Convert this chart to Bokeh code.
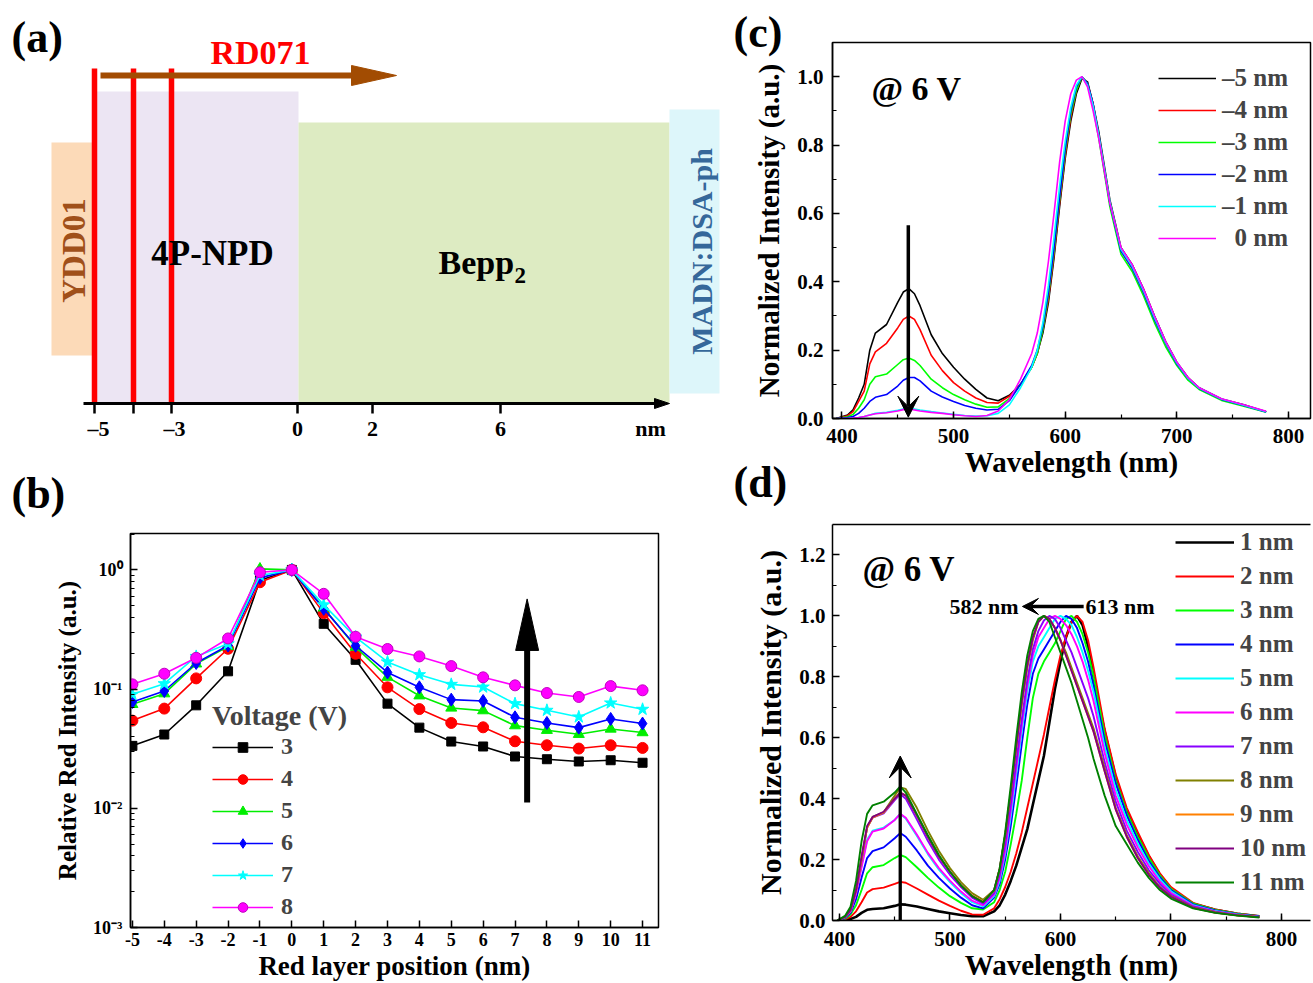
import math
from bokeh.plotting import figure
from bokeh.models import (Range1d, LinearAxis, Legend, LegendItem, Label, Arrow, VeeHead, Title,
                          FixedTicker, SingleIntervalTicker, NumeralTickFormatter,
                          CustomJSTickFormatter)
from bokeh.layouts import row, column
from bokeh.embed import file_html
from bokeh.resources import INLINE
from bokeh.core.properties import value

FONT = "Liberation Serif"

# ---------------- (a) device schematic (drawing units of the panel) ----------------
layer_names = ["YDD01", "4P-NPD", "Bepp2", "MADN:DSA-ph"]
layer_left = [51, 94, 298, 669]
layer_right = [92, 298, 669, 719]
layer_top = [142, 91, 122, 109]
layer_bottom = [355, 402, 402, 393]
layer_colors = ["#FCDAB8", "#ECE5F3", "#DDEBC2", "#DDF6FA"]
rd071_x = [94, 133, 171]
scale_ticks = [94, 133, 171, 297, 372, 500]
scale_label_x = [98, 174, 297, 372, 500, 650]
scale_label_text = ["\u20135", "\u20133", "0", "2", "6", "nm"]

# ---------------- (b) relative red intensity vs position ----------------
positions = list(range(-5, 12))
voltages = ["3", "4", "5", "6", "7", "8"]
b_v3 = [0.0334, 0.0416, 0.0731, 0.141, 0.82, 1.0, 0.353, 0.176, 0.0755, 0.0475, 0.0363, 0.033, 0.0272, 0.0258, 0.0247, 0.0253, 0.0241]
b_v4 = [0.0544, 0.0686, 0.123, 0.218, 0.788, 1.0, 0.434, 0.198, 0.1035, 0.068, 0.052, 0.0478, 0.0365, 0.0338, 0.0317, 0.0338, 0.0321]
b_v5 = [0.0745, 0.0916, 0.163, 0.228, 1.02, 1.0, 0.48, 0.225, 0.126, 0.088, 0.0695, 0.066, 0.0494, 0.0452, 0.0418, 0.0463, 0.0432]
b_v6 = [0.078, 0.0964, 0.1655, 0.232, 0.857, 1.0, 0.471, 0.231, 0.138, 0.1035, 0.0816, 0.0795, 0.058, 0.052, 0.0475, 0.0562, 0.0514]
b_v7 = [0.0904, 0.111, 0.188, 0.24, 0.897, 1.0, 0.509, 0.273, 0.169, 0.132, 0.1096, 0.104, 0.0755, 0.0664, 0.0584, 0.0765, 0.0677]
b_v8 = [0.1096, 0.1346, 0.183, 0.266, 0.955, 1.0, 0.63, 0.275, 0.217, 0.188, 0.156, 0.1255, 0.1075, 0.0927, 0.0859, 0.106, 0.0977]
b_series = [b_v3, b_v4, b_v5, b_v6, b_v7, b_v8]
b_colors = ["#000000", "#FF0000", "#00EE00", "#0000FF", "#00FFFF", "#FF00FF"]
b_markers = ["square", "circle", "triangle", "diamond", "star", "circle"]
b_sizes = [9, 11, 11, 13, 13, 11]

# ---------------- (c) spectra, red layer at -5 ... 0 nm ----------------
wl_c = [395, 405, 410, 415, 420, 425, 430, 440, 450, 455, 460, 465, 470, 480, 490, 500, 510, 520,
        530, 540, 550, 560, 570, 575, 580, 585, 590, 595, 600, 605, 610, 615, 620, 625, 630, 640,
        650, 660, 670, 680, 690, 700, 710, 720, 740, 760, 780]
c_m5 = [0, 0.01, 0.025, 0.06, 0.1, 0.2, 0.25, 0.275, 0.34, 0.37, 0.38, 0.365, 0.33, 0.245, 0.19, 0.15, 0.115, 0.085,
        0.06, 0.052, 0.068, 0.1, 0.15, 0.19, 0.25, 0.34, 0.47, 0.62, 0.76, 0.87, 0.95, 0.995, 0.985, 0.92, 0.84, 0.64,
        0.5, 0.45, 0.38, 0.3, 0.225, 0.165, 0.12, 0.09, 0.057, 0.04, 0.02]
c_m4 = [0, 0.008, 0.02, 0.05, 0.08, 0.16, 0.195, 0.22, 0.265, 0.29, 0.3, 0.29, 0.26, 0.185, 0.14, 0.105, 0.08, 0.06,
        0.047, 0.045, 0.065, 0.1, 0.15, 0.19, 0.26, 0.35, 0.48, 0.63, 0.77, 0.88, 0.96, 1.0, 0.98, 0.92, 0.83, 0.63,
        0.49, 0.44, 0.37, 0.29, 0.22, 0.162, 0.118, 0.088, 0.056, 0.038, 0.02]
c_m3 = [0, 0.005, 0.012, 0.03, 0.055, 0.1, 0.122, 0.13, 0.158, 0.172, 0.177, 0.17, 0.155, 0.115, 0.09, 0.07, 0.055, 0.042,
        0.033, 0.034, 0.058, 0.1, 0.15, 0.19, 0.26, 0.36, 0.49, 0.64, 0.78, 0.89, 0.96, 1.0, 0.98, 0.91, 0.82, 0.62,
        0.48, 0.43, 0.36, 0.28, 0.21, 0.155, 0.112, 0.085, 0.053, 0.036, 0.018]
c_m2 = [0, 0.003, 0.006, 0.015, 0.03, 0.05, 0.062, 0.07, 0.095, 0.112, 0.12, 0.12, 0.11, 0.08, 0.063, 0.05, 0.038, 0.03,
        0.025, 0.027, 0.052, 0.1, 0.155, 0.2, 0.27, 0.37, 0.5, 0.65, 0.79, 0.9, 0.97, 1.0, 0.98, 0.92, 0.83, 0.63,
        0.49, 0.44, 0.37, 0.29, 0.22, 0.16, 0.117, 0.088, 0.056, 0.038, 0.019]
c_m1 = [0, 0, 0.001, 0.003, 0.006, 0.01, 0.015, 0.018, 0.024, 0.028, 0.03, 0.028, 0.025, 0.02, 0.016, 0.012, 0.009, 0.007,
        0.008, 0.015, 0.04, 0.09, 0.15, 0.2, 0.28, 0.39, 0.53, 0.68, 0.81, 0.91, 0.975, 1.0, 0.975, 0.915, 0.83, 0.635,
        0.495, 0.445, 0.375, 0.295, 0.222, 0.163, 0.118, 0.089, 0.057, 0.039, 0.02]
c_0 = [0, 0, 0.001, 0.003, 0.006, 0.01, 0.014, 0.017, 0.022, 0.026, 0.028, 0.025, 0.022, 0.018, 0.015, 0.011, 0.008, 0.006,
       0.009, 0.022, 0.055, 0.115, 0.19, 0.25, 0.34, 0.46, 0.6, 0.75, 0.87, 0.95, 0.99, 1.0, 0.97, 0.9, 0.82, 0.63,
       0.5, 0.45, 0.38, 0.3, 0.225, 0.165, 0.12, 0.09, 0.058, 0.04, 0.021]
c_series = [c_m5, c_m4, c_m3, c_m2, c_m1, c_0]
c_labels = ["\u20135 nm", "\u20134 nm", "\u20133 nm", "\u20132 nm", "\u20131 nm", "\u20020 nm"]
c_colors = ["#000000", "#FF0000", "#00FF00", "#0000FF", "#00FFFF", "#FF00FF"]

# ---------------- (d) spectra, red layer at 1 ... 11 nm ----------------
wl_d = [398, 405, 410, 415, 420, 425, 430, 440, 450, 455, 460, 470, 480, 490, 500, 510, 520, 530,
        540, 545, 550, 555, 560, 565, 570, 575, 580, 585, 590, 595, 600, 605, 610, 615, 620, 625,
        630, 640, 650, 660, 670, 680, 690, 700, 720, 740, 760, 780]
d_1 = [0, 0.002, 0.005, 0.012, 0.025, 0.035, 0.038, 0.04, 0.048, 0.053, 0.052, 0.046, 0.038, 0.03, 0.024, 0.018, 0.014, 0.014,
       0.03, 0.05, 0.085, 0.13, 0.18, 0.24, 0.3, 0.38, 0.46, 0.54, 0.65, 0.76, 0.85, 0.93, 0.98, 1.0, 0.97, 0.9,
       0.8, 0.62, 0.47, 0.36, 0.28, 0.21, 0.15, 0.105, 0.055, 0.035, 0.022, 0.014]
d_2 = [0, 0.004, 0.012, 0.03, 0.06, 0.092, 0.103, 0.108, 0.12, 0.127, 0.124, 0.105, 0.085, 0.065, 0.048, 0.032, 0.02, 0.019,
       0.04, 0.07, 0.11, 0.16, 0.22, 0.29, 0.37, 0.45, 0.53, 0.61, 0.7, 0.79, 0.87, 0.93, 0.98, 1.0, 0.98, 0.92,
       0.83, 0.63, 0.48, 0.37, 0.29, 0.215, 0.155, 0.11, 0.058, 0.036, 0.023, 0.014]
d_3 = [0, 0.006, 0.02, 0.05, 0.1, 0.155, 0.175, 0.182, 0.205, 0.215, 0.208, 0.175, 0.14, 0.108, 0.08, 0.058, 0.04, 0.036,
       0.06, 0.1, 0.16, 0.25, 0.35, 0.46, 0.6, 0.73, 0.81, 0.85, 0.88, 0.91, 0.95, 0.99, 1.0, 0.98, 0.94, 0.88,
       0.8, 0.61, 0.46, 0.355, 0.275, 0.205, 0.148, 0.104, 0.056, 0.035, 0.022, 0.013]
d_4 = [0, 0.008, 0.025, 0.07, 0.14, 0.205, 0.228, 0.24, 0.27, 0.287, 0.275, 0.23, 0.18, 0.14, 0.105, 0.075, 0.05, 0.04,
       0.075, 0.12, 0.2, 0.31, 0.44, 0.58, 0.71, 0.81, 0.86, 0.89, 0.92, 0.95, 0.98, 1.0, 0.99, 0.96, 0.91, 0.85,
       0.77, 0.59, 0.45, 0.345, 0.265, 0.195, 0.142, 0.1, 0.053, 0.033, 0.021, 0.013]
d_5 = [0, 0.01, 0.03, 0.09, 0.18, 0.265, 0.295, 0.305, 0.33, 0.35, 0.335, 0.278, 0.218, 0.167, 0.126, 0.09, 0.06, 0.046,
       0.08, 0.13, 0.22, 0.34, 0.48, 0.62, 0.75, 0.85, 0.9, 0.93, 0.96, 0.99, 1.0, 0.99, 0.97, 0.93, 0.88, 0.82,
       0.75, 0.57, 0.43, 0.33, 0.252, 0.187, 0.136, 0.096, 0.05, 0.031, 0.02, 0.012]
d_6 = [0, 0.01, 0.03, 0.088, 0.175, 0.26, 0.292, 0.302, 0.33, 0.35, 0.337, 0.282, 0.222, 0.172, 0.131, 0.095, 0.065, 0.05,
       0.085, 0.14, 0.23, 0.36, 0.5, 0.64, 0.77, 0.87, 0.93, 0.96, 0.99, 1.0, 0.99, 0.97, 0.94, 0.9, 0.85, 0.79,
       0.72, 0.55, 0.41, 0.315, 0.24, 0.178, 0.128, 0.091, 0.048, 0.03, 0.019, 0.012]
d_7 = [0, 0.012, 0.035, 0.1, 0.2, 0.305, 0.338, 0.352, 0.395, 0.415, 0.4, 0.332, 0.262, 0.2, 0.15, 0.11, 0.075, 0.055,
       0.09, 0.15, 0.25, 0.38, 0.52, 0.66, 0.79, 0.89, 0.95, 0.985, 1.0, 0.99, 0.96, 0.92, 0.88, 0.83, 0.78, 0.73,
       0.67, 0.52, 0.39, 0.295, 0.225, 0.165, 0.12, 0.085, 0.046, 0.029, 0.018, 0.011]
d_8 = [0, 0.012, 0.035, 0.1, 0.2, 0.305, 0.34, 0.355, 0.41, 0.437, 0.432, 0.37, 0.295, 0.228, 0.172, 0.126, 0.09, 0.068,
       0.1, 0.17, 0.28, 0.42, 0.57, 0.71, 0.83, 0.92, 0.98, 1.0, 0.99, 0.96, 0.92, 0.88, 0.83, 0.78, 0.73, 0.68,
       0.63, 0.5, 0.37, 0.28, 0.21, 0.155, 0.11, 0.08, 0.043, 0.027, 0.017, 0.011]
d_9 = [0, 0.012, 0.035, 0.1, 0.205, 0.305, 0.338, 0.355, 0.4, 0.42, 0.41, 0.345, 0.275, 0.21, 0.16, 0.116, 0.082, 0.062,
       0.098, 0.168, 0.28, 0.42, 0.57, 0.72, 0.84, 0.93, 0.98, 1.0, 0.99, 0.96, 0.92, 0.87, 0.82, 0.77, 0.72, 0.67,
       0.62, 0.49, 0.365, 0.275, 0.205, 0.15, 0.108, 0.078, 0.042, 0.026, 0.017, 0.011]
d_10 = [0, 0.012, 0.035, 0.1, 0.21, 0.31, 0.34, 0.357, 0.4, 0.42, 0.41, 0.345, 0.275, 0.21, 0.16, 0.115, 0.08, 0.06,
        0.1, 0.17, 0.28, 0.42, 0.57, 0.72, 0.84, 0.93, 0.98, 1.0, 0.99, 0.96, 0.92, 0.87, 0.82, 0.77, 0.72, 0.67,
        0.62, 0.49, 0.365, 0.275, 0.205, 0.15, 0.108, 0.078, 0.042, 0.026, 0.017, 0.011]
d_11 = [0, 0.015, 0.045, 0.13, 0.26, 0.35, 0.378, 0.39, 0.42, 0.44, 0.42, 0.35, 0.28, 0.215, 0.16, 0.115, 0.08, 0.06,
        0.1, 0.17, 0.29, 0.44, 0.6, 0.75, 0.87, 0.95, 0.99, 1.0, 0.98, 0.93, 0.88, 0.83, 0.78, 0.72, 0.66, 0.6,
        0.53, 0.41, 0.31, 0.25, 0.19, 0.14, 0.1, 0.072, 0.04, 0.025, 0.016, 0.01]
d_series = [d_1, d_2, d_3, d_4, d_5, d_6, d_7, d_8, d_9, d_10, d_11]
d_labels = ["%d nm" % i for i in range(1, 12)]
d_colors = ["#000000", "#FF0000", "#00FF00", "#0000FF", "#00FFFF", "#FF00FF",
            "#8800FF", "#808000", "#FF8000", "#800080", "#008000"]


# ---------------- helpers ----------------
def style(p, tick_px, standoff, label_px, label_standoff):
    p.grid.visible = False
    p.outline_line_color = "black"
    p.outline_line_width = 1.5
    for ax in p.axis:
        ax.axis_line_width = 1.5
        ax.axis_line_color = "black"
        ax.major_tick_in = 7
        ax.major_tick_out = 0
        ax.minor_tick_in = 4
        ax.minor_tick_out = 0
        ax.major_tick_line_width = 1.5
        ax.minor_tick_line_width = 1.2
        ax.major_label_text_font = FONT
        ax.major_label_text_font_style = "bold"
        ax.major_label_text_font_size = "%dpx" % tick_px
        ax.major_label_text_color = "black"
        ax.major_label_standoff = standoff
        ax.axis_label_text_font = FONT
        ax.axis_label_text_font_style = "bold"
        ax.axis_label_text_font_size = "%dpx" % label_px
        ax.axis_label_text_color = "black"
        ax.axis_label_standoff = label_standoff


def lab(p, x, y, text, size, align="left", baseline="middle", angle=0.0, color="black"):
    p.add_layout(Label(x=x, y=y, text=text, text_font=FONT, text_font_style="bold",
                       text_font_size="%dpx" % size, text_align=align, text_baseline=baseline,
                       angle=angle, text_color=color))


def panel_title(text, offset, standoff, valign):
    return Title(text=text, align="left", offset=offset, standoff=standoff, vertical_align=valign,
                 text_font=FONT, text_font_style="bold", text_font_size="44px", text_color="black")


def legend_common(leg, size):
    leg.label_text_font = FONT
    leg.label_text_font_style = "bold"
    leg.label_text_font_size = "%dpx" % size
    leg.border_line_alpha = 0
    leg.background_fill_alpha = 0
    leg.padding = 0


# ================= panel (a) =================
fa = figure(width=725, height=455, x_range=Range1d(0, 725), y_range=Range1d(455, 0),
            x_axis_location=None, y_axis_location=None, toolbar_location=None,
            output_backend="svg", min_border=0)
fa.grid.visible = False
fa.outline_line_color = None
fa.quad(left=layer_left, right=layer_right, top=layer_top, bottom=layer_bottom,
        fill_color=layer_colors, line_color=None)
fa.segment(x0=rd071_x, y0=[68] * 3, x1=rd071_x, y1=[403] * 3, line_color="#FF0000", line_width=5.5)
# brown diffusion arrow
fa.segment(x0=[100], y0=[75], x1=[355], y1=[75], line_color="#A24C02", line_width=6)
fa.patch(x=[351, 396, 351], y=[65, 75, 85], fill_color="#A24C02", line_color="#A24C02")
# position scale
fa.segment(x0=[83], y0=[403], x1=[658], y1=[403], line_color="black", line_width=3)
fa.patch(x=[654, 669, 654], y=[398, 403, 408], fill_color="black", line_color="black")
fa.segment(x0=scale_ticks, y0=[403] * 6, x1=scale_ticks, y1=[413] * 6, line_color="black", line_width=2.5)
fa.text(x=scale_label_x, y=[428] * 6, text=scale_label_text, text_font=value(FONT),
        text_font_style="bold", text_font_size="22px", text_align="center", text_baseline="middle")
fa.text(x=[11], y=[37], text=["(a)"], text_font=value(FONT), text_font_style="bold",
        text_font_size="44px", text_align="left", text_baseline="middle")
fa.text(x=[260], y=[52], text=["RD071"], text_font=value(FONT), text_font_style="bold",
        text_font_size="34px", text_align="center", text_baseline="middle", text_color="#FF0000")
fa.text(x=[212], y=[253], text=["4P-NPD"], text_font=value(FONT), text_font_style="bold",
        text_font_size="35px", text_align="center", text_baseline="middle")
fa.text(x=[438], y=[262], text=["Bepp"], text_font=value(FONT), text_font_style="bold",
        text_font_size="34px", text_align="left", text_baseline="middle")
fa.text(x=[514], y=[275], text=["2"], text_font=value(FONT), text_font_style="bold",
        text_font_size="23px", text_align="left", text_baseline="middle")
fa.text(x=[73], y=[250], text=["YDD01"], angle=math.pi / 2, text_font=value(FONT),
        text_font_style="bold", text_font_size="33px", text_align="center",
        text_baseline="middle", text_color="#A0501A")
fa.text(x=[701], y=[251], text=["MADN:DSA-ph"], angle=math.pi / 2, text_font=value(FONT),
        text_font_style="bold", text_font_size="30px", text_align="center",
        text_baseline="middle", text_color="#35689A")

# ================= panel (b) =================
fb = figure(width=725, height=528, x_range=Range1d(-5.06, 11.5), y_range=Range1d(0.001, 2.02),
            y_axis_type="log", toolbar_location=None, output_backend="svg",
            x_axis_label="Red layer position (nm)", y_axis_label="Relative Red Intensity (a.u.)",
            min_border_left=130, min_border_right=67, min_border_top=78, min_border_bottom=55)
style(fb, 18, 5, 27, 2)
fb.yaxis.axis_label_text_font_size = "25px"
fb.yaxis.axis_label_standoff = 9
fb.xaxis.ticker = FixedTicker(ticks=positions)
fb.xaxis.minor_tick_line_color = None
fb.xaxis.formatter = CustomJSTickFormatter(code="return tick.toFixed(0);")
fb.yaxis.ticker = FixedTicker(ticks=[0.001, 0.01, 0.1, 1.0],
                              minor_ticks=[m * 10.0 ** k for k in (-3, -2, -1, 0) for m in range(2, 10)])
fb.yaxis.formatter = CustomJSTickFormatter(code="""
const e = Math.round(Math.log10(tick));
const sup = {'-': '\u207B', '0': '\u2070', '1': '\u00B9', '2': '\u00B2', '3': '\u00B3'};
return '10' + String(e).split('').map(c => sup[c]).join('');
""")
fb.yaxis.major_label_standoff = 8
b_items = []
for vals, name, col, mk, sz in zip(b_series, voltages, b_colors, b_markers, b_sizes):
    ln = fb.line(positions, vals, line_color=col, line_width=1.6)
    lc = "#C000C0" if name == "8" else col
    sc = fb.scatter(positions, vals, marker=mk, size=sz, fill_color=col, line_color=lc)
    b_items.append(LegendItem(label=name, renderers=[ln, sc]))
leg_b = Legend(items=b_items, location=(82, 7), title="Voltage (V)",
               glyph_width=61, glyph_height=24, label_standoff=8, spacing=5, margin=0)
legend_common(leg_b, 24)
leg_b.title_text_font = FONT
leg_b.title_text_font_style = "bold"
leg_b.title_text_font_size = "28px"
leg_b.title_standoff = 1
fb.add_layout(leg_b)
# upward arrow
fb.segment(x0=[7.38], y0=[0.0112], x1=[7.38], y1=[0.23], line_color="black", line_width=6)
fb.patch(x=[7.02, 7.38, 7.74], y=[0.211, 0.571, 0.211], fill_color="black", line_color="black")
fb.add_layout(panel_title("(b)", -119, 27, "top"), "above")

# ================= panel (c) =================
fc = figure(width=588, height=506, x_range=Range1d(391.6, 819.7), y_range=Range1d(0, 1.1),
            toolbar_location=None, output_backend="svg",
            x_axis_label="Wavelength (nm)", y_axis_label="Normalized Intensity (a.u.)",
            min_border_left=107, min_border_right=3, min_border_top=42, min_border_bottom=88)
style(fc, 21, 10, 29, 0)
fc.yaxis.axis_label_standoff = 9
fc.xaxis.ticker = SingleIntervalTicker(interval=100, num_minor_ticks=2)
fc.yaxis.ticker = SingleIntervalTicker(interval=0.2, num_minor_ticks=2)
fc.yaxis.formatter = NumeralTickFormatter(format="0.0")
fc.yaxis.major_label_standoff = 9
c_items = []
for vals, name, col in zip(c_series, c_labels, c_colors):
    ln = fc.line(wl_c, vals, line_color=col, line_width=1.6)
    c_items.append(LegendItem(label=name, renderers=[ln]))
leg_c = Legend(items=c_items, location="top_right", margin=22,
               glyph_width=58, glyph_height=20, label_standoff=6, spacing=4)
legend_common(leg_c, 25)
fc.add_layout(leg_c)
fc.add_layout(Arrow(end=VeeHead(size=21, fill_color="black", line_color="black"),
                    x_start=459.5, y_start=0.565, x_end=459.5, y_end=0.004,
                    line_width=3.5, line_color="black"))
lab(fc, 426.5, 0.965, "@ 6 V", 34)
fc.add_layout(panel_title("(c)", -99, -29, "bottom"), "above")
fc.add_layout(panel_title("(d)", -99, -45, "top"), "below")

# ================= panel (d) =================
fd = figure(width=588, height=477, x_range=Range1d(393.7, 826.3), y_range=Range1d(0, 1.3),
            toolbar_location=None, output_backend="svg",
            x_axis_label="Wavelength (nm)", y_axis_label="Normalized Intensity (a.u.)",
            min_border_left=107, min_border_right=3, min_border_top=18, min_border_bottom=63)
style(fd, 21, 11, 29, 0)
fd.yaxis.axis_label_text_font_size = "30px"
fd.yaxis.axis_label_standoff = 9
fd.outline_line_color = None
fd.xaxis.ticker = SingleIntervalTicker(interval=100, num_minor_ticks=2)
fd.yaxis.ticker = SingleIntervalTicker(interval=0.2, num_minor_ticks=2)
fd.yaxis.formatter = NumeralTickFormatter(format="0.0")
fd.yaxis.major_label_standoff = 7
top_axis = LinearAxis(ticker=FixedTicker(ticks=[]), axis_line_width=1.5, major_tick_in=0,
                      major_tick_out=0, minor_tick_in=0, minor_tick_out=0)
fd.add_layout(top_axis, "above")
d_items = []
for vals, name, col in zip(d_series, d_labels, d_colors):
    lw = 2.6 if name == "1 nm" else 1.9
    ln = fd.line(wl_d, vals, line_color=col, line_width=lw)
    d_items.append(LegendItem(label=name, renderers=[ln]))
leg_d = Legend(items=d_items, location="top_right", margin=4,
               glyph_width=59, glyph_height=20, label_standoff=6, spacing=6)
legend_common(leg_d, 25)
fd.add_layout(leg_d)
fd.add_layout(Arrow(end=VeeHead(size=22, fill_color="black", line_color="black"),
                    x_start=455, y_start=0.0, x_end=455, y_end=0.54,
                    line_width=3.3, line_color="black"))
fd.add_layout(Arrow(end=VeeHead(size=16, fill_color="black", line_color="black"),
                    x_start=621, y_start=1.031, x_end=565.6, y_end=1.031,
                    line_width=3.5, line_color="black"))
lab(fd, 562.0, 1.031, "582 nm", 22, align="right")
lab(fd, 622.7, 1.031, "613 nm", 22, align="left")
lab(fd, 420.8, 1.152, "@ 6 V", 35)

layout = row(column(row(fa), fb), column(fc, fd))
open("out.html", "w").write(file_html(layout, INLINE))
